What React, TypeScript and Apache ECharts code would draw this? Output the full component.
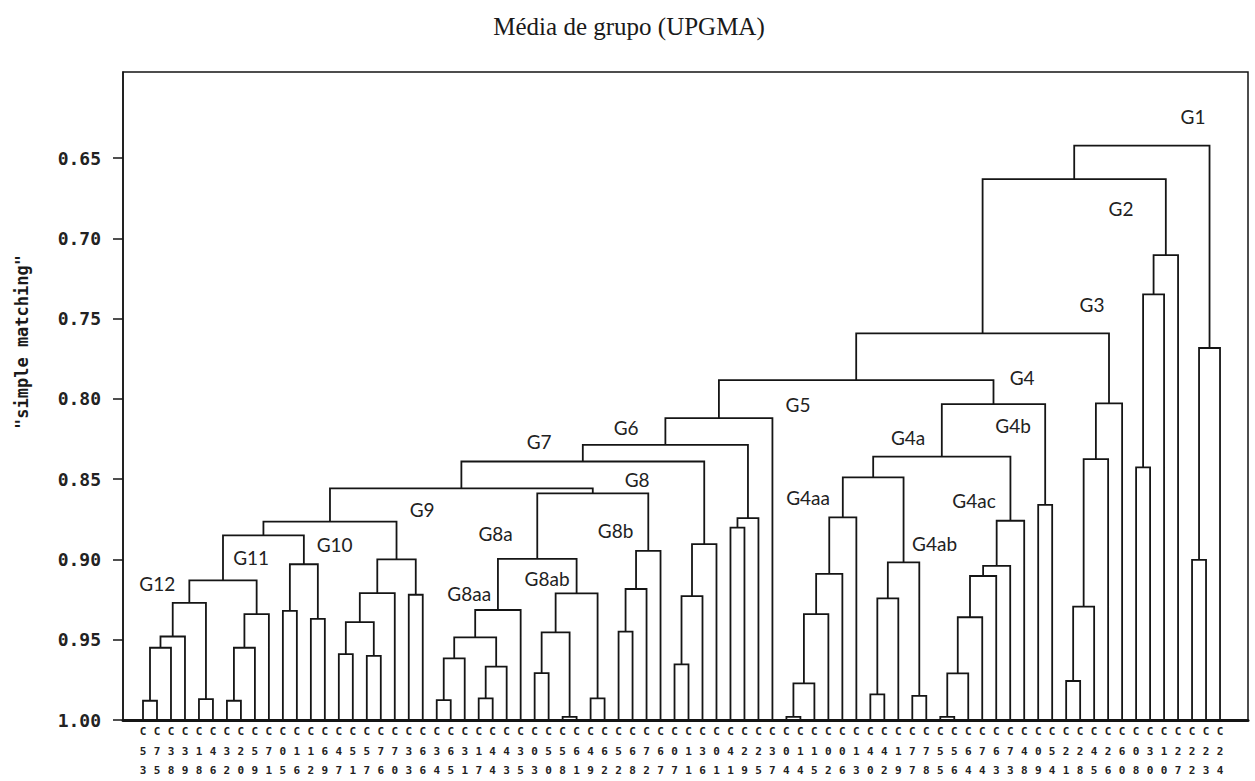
import React, { useEffect, useRef } from "react";
import * as echarts from "echarts";

// Leaf (object) order along the x axis
const leafLabels = [
  "C53", "C75", "C38", "C39", "C18", "C46", "C32", "C20", "C59", "C71",
  "C05", "C16", "C12", "C69", "C47", "C51", "C57", "C76", "C70", "C33",
  "C66", "C34", "C65", "C31", "C17", "C44", "C43", "C35", "C03", "C50",
  "C58", "C61", "C49", "C62", "C52", "C68", "C72", "C67", "C07", "C11",
  "C36", "C01", "C41", "C29", "C25", "C37", "C04", "C14", "C15", "C02",
  "C06", "C13", "C40", "C42", "C19", "C77", "C78", "C55", "C56", "C64",
  "C74", "C63", "C73", "C48", "C09", "C54", "C21", "C28", "C45", "C26",
  "C60", "C08", "C30", "C10", "C27", "C22", "C23", "C24",
];

// UPGMA merges: [cluster id, left child, right child, similarity]
const merges: [string, string, string, number][] = [
  ["a1", "C53", "C75", 0.988],
  ["a2", "a1", "C38", 0.955],
  ["a3", "a2", "C39", 0.948],
  ["a4", "C18", "C46", 0.987],
  ["a5", "a3", "a4", 0.927],
  ["a6", "C32", "C20", 0.988],
  ["a7", "a6", "C59", 0.955],
  ["a8", "a7", "C71", 0.934],
  ["a9", "a5", "a8", 0.913],
  ["a10", "C05", "C16", 0.932],
  ["a11", "C12", "C69", 0.937],
  ["a12", "a10", "a11", 0.903],
  ["a13", "a9", "a12", 0.885],
  ["a14", "C47", "C51", 0.959],
  ["a15", "C57", "C76", 0.96],
  ["a16", "a14", "a15", 0.939],
  ["a17", "a16", "C70", 0.921],
  ["a18", "C33", "C66", 0.922],
  ["a19", "a17", "a18", 0.9],
  ["a20", "a13", "a19", 0.8765],
  ["b1", "C34", "C65", 0.9876],
  ["b2", "b1", "C31", 0.9616],
  ["b3", "C17", "C44", 0.9865],
  ["b4", "b3", "C43", 0.9667],
  ["b5", "b2", "b4", 0.9485],
  ["b6", "b5", "C35", 0.9315],
  ["b7", "C03", "C50", 0.9708],
  ["b8", "C58", "C61", 0.998],
  ["b9", "b7", "b8", 0.9454],
  ["b10", "C49", "C62", 0.9865],
  ["b11", "b9", "b10", 0.9211],
  ["b12", "b6", "b11", 0.8997],
  ["b13", "C52", "C68", 0.945],
  ["b14", "b13", "C72", 0.9184],
  ["b15", "b14", "C67", 0.8946],
  ["b16", "b12", "b15", 0.8588],
  ["b17", "a20", "b16", 0.8557],
  ["b18", "C07", "C11", 0.9653],
  ["b19", "b18", "C36", 0.9228],
  ["b20", "b19", "C01", 0.8904],
  ["b21", "b17", "b20", 0.839],
  ["b22", "C41", "C29", 0.8802],
  ["b23", "b22", "C25", 0.8743],
  ["b24", "b21", "b23", 0.8287],
  ["b25", "b24", "C37", 0.812],
  ["d1", "C04", "C14", 0.998],
  ["d2", "d1", "C15", 0.9772],
  ["d3", "d2", "C02", 0.9341],
  ["d4", "d3", "C06", 0.909],
  ["d5", "d4", "C13", 0.8738],
  ["d6", "C40", "C42", 0.984],
  ["d7", "d6", "C19", 0.9242],
  ["d8", "C77", "C78", 0.985],
  ["d9", "d7", "d8", 0.9018],
  ["d10", "d5", "d9", 0.8489],
  ["d11", "C55", "C56", 0.998],
  ["d12", "d11", "C64", 0.9709],
  ["d13", "d12", "C74", 0.936],
  ["d14", "d13", "C63", 0.9103],
  ["d15", "d14", "C73", 0.904],
  ["d16", "d15", "C48", 0.8759],
  ["d17", "d10", "d16", 0.836],
  ["d18", "C09", "C54", 0.866],
  ["d19", "d17", "d18", 0.8032],
  ["c1", "b25", "d19", 0.7883],
  ["e1", "C21", "C28", 0.9757],
  ["e2", "e1", "C45", 0.9294],
  ["e3", "e2", "C26", 0.8375],
  ["e4", "e3", "C60", 0.8028],
  ["c2", "c1", "e4", 0.7592],
  ["e5", "C08", "C30", 0.8426],
  ["e6", "e5", "C10", 0.7349],
  ["e7", "e6", "C27", 0.7104],
  ["c3", "c2", "e7", 0.6631],
  ["e8", "C22", "C23", 0.9003],
  ["e9", "e8", "C24", 0.7683],
  ["c4", "c3", "e9", 0.6423],
];

// Group annotations: [text, leaf position, similarity]
const groupLabels: [string, number, number][] = [
  ["G1", 75.07, 0.6242],
  ["G2", 69.92, 0.6815],
  ["G3", 67.85, 0.7415],
  ["G4", 62.85, 0.7867],
  ["G5", 46.83, 0.8038],
  ["G4a", 54.7, 0.8241],
  ["G4b", 62.2, 0.8163],
  ["G4aa", 47.55, 0.8614],
  ["G4ac", 59.41, 0.863],
  ["G4ab", 56.59, 0.8901],
  ["G6", 34.54, 0.8178],
  ["G7", 28.32, 0.8266],
  ["G8", 35.33, 0.8505],
  ["G8a", 25.21, 0.8839],
  ["G8b", 33.79, 0.882],
  ["G8aa", 23.32, 0.9212],
  ["G8ab", 28.89, 0.9119],
  ["G9", 19.96, 0.8689],
  ["G10", 13.7, 0.8907],
  ["G11", 7.73, 0.8988],
  ["G12", 1.02, 0.915],
];

const yTicks = [0.65, 0.7, 0.75, 0.8, 0.85, 0.9, 0.95, 1.0];

export default function App() {
  const ref = useRef<HTMLDivElement>(null);

  useEffect(() => {
    if (!ref.current) return;
    const chart = echarts.init(ref.current, undefined, { renderer: "svg" });

    const pos: Record<string, { x: number; h: number }> = {};
    leafLabels.forEach((l, i) => {
      pos[l] = { x: i, h: 1.0 };
    });
    const segs = merges.map(([id, a, b, h]) => {
      const A = pos[a];
      const B = pos[b];
      pos[id] = { x: (A.x + B.x) / 2, h };
      return [A.x, B.x, h, A.h, B.h];
    });

    const ink = "#151515";

    chart.setOption({
      animation: false,
      backgroundColor: "#ffffff",
      grid: {
        left: 123,
        right: 7,
        top: 72,
        bottom: 61,
        show: true,
        borderColor: ink,
        borderWidth: 1.5,
        backgroundColor: "transparent",
      },
      graphic: [
        {
          type: "text",
          x: 629,
          y: 26,
          style: {
            text: "Média de grupo (UPGMA)",
            font: '25px "Liberation Serif"',
            fill: "#1a1a1a",
            align: "center",
            verticalAlign: "middle",
            textAlign: "center",
            textVerticalAlign: "middle",
          },
        },
        {
          type: "text",
          x: 22,
          y: 342,
          rotation: Math.PI / 2,
          style: {
            text: '"simple matching"',
            font: 'bold 17px "DejaVu Sans Mono"',
            fill: "#1a1a1a",
            align: "center",
            verticalAlign: "middle",
            textAlign: "center",
            textVerticalAlign: "middle",
          },
        },
      ],
      xAxis: {
        type: "value",
        min: -1.43,
        max: 79,
        axisLine: { show: true, onZero: false, lineStyle: { color: ink, width: 3 } },
        axisTick: { show: false },
        splitLine: { show: false },
        axisLabel: {
          customValues: leafLabels.map((_, i) => i),
          formatter: (v: number) => {
            const l = leafLabels[Math.round(v)];
            return l ? l[0] + "\n" + l[1] + "\n" + l[2] : "";
          },
          fontFamily: "DejaVu Sans Mono",
          fontWeight: "bold",
          fontSize: 11,
          lineHeight: 19.5,
          color: "#222",
          margin: 2,
          hideOverlap: false,
        },
      },
      yAxis: {
        type: "value",
        inverse: true,
        min: 0.5964,
        max: 1.0,
        axisLine: { show: true, onZero: false, lineStyle: { color: ink, width: 1.5 } },
        axisTick: {
          show: true,
          length: 10,
          customValues: yTicks,
          lineStyle: { color: ink, width: 1.5 },
        },
        splitLine: { show: false },
        axisLabel: {
          customValues: yTicks,
          formatter: (v: number) => v.toFixed(2),
          fontFamily: "DejaVu Sans Mono",
          fontWeight: "bold",
          fontSize: 18,
          color: "#222",
          margin: 22,
        },
      },
      series: [
        {
          type: "custom",
          data: segs,
          clip: false,
          encode: { x: [0, 1], y: [2, 3, 4] },
          renderItem: (params: any, api: any) => {
            const x1 = api.value(0);
            const x2 = api.value(1);
            const h = api.value(2);
            const h1 = api.value(3);
            const h2 = api.value(4);
            const p1 = api.coord([x1, h1]);
            const p2 = api.coord([x1, h]);
            const p3 = api.coord([x2, h]);
            const p4 = api.coord([x2, h2]);
            return {
              type: "polyline",
              shape: { points: [p1, p2, p3, p4] },
              style: { stroke: ink, lineWidth: 1.8, fill: "none" },
            };
          },
        },
        {
          type: "custom",
          data: groupLabels.map((g) => [g[1], g[2]]),
          clip: false,
          encode: { x: 0, y: 1 },
          renderItem: (params: any, api: any) => {
            const p = api.coord([api.value(0), api.value(1)]);
            return {
              type: "text",
              x: p[0],
              y: p[1],
              style: {
                text: groupLabels[params.dataIndex][0],
                font: '19px Lato',
                fill: "#222",
                align: "center",
                verticalAlign: "middle",
              },
            };
          },
        },
      ],
    });

    return () => {
      chart.dispose();
    };
  }, []);

  return (
    <div
      ref={ref}
      style={{ position: "fixed", left: 0, top: 0, width: 1255, height: 781, background: "#fff" }}
    />
  );
}
